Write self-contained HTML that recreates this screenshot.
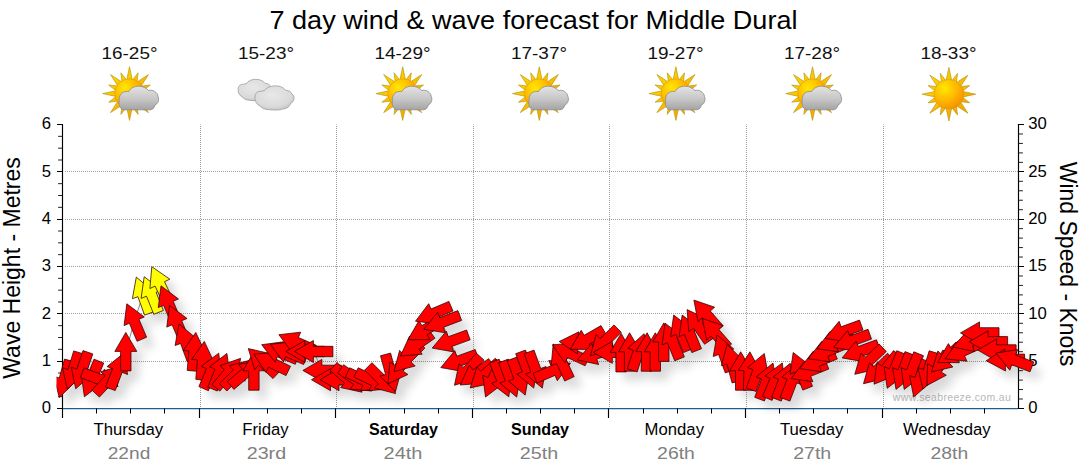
<!DOCTYPE html><html><head><meta charset="utf-8"><title>7 day wind &amp; wave forecast</title>
<style>html,body{margin:0;padding:0;background:#fff}svg{display:block}text{font-family:"Liberation Sans",sans-serif}</style></head><body>
<svg width="1080" height="475" viewBox="0 0 1080 475">
<defs>
<filter id="sh" x="-5%" y="-20%" width="110%" height="150%"><feGaussianBlur in="SourceAlpha" stdDeviation="5"/><feOffset dx="8" dy="9"/><feComponentTransfer><feFuncA type="linear" slope="0.15"/></feComponentTransfer></filter>
<radialGradient id="sung" cx="0.35" cy="0.3" r="0.8"><stop offset="0" stop-color="#ffe800"/><stop offset="0.55" stop-color="#ffb400"/><stop offset="1" stop-color="#f08c00"/></radialGradient>
<linearGradient id="rayg" x1="0" y1="0" x2="1" y2="1"><stop offset="0" stop-color="#ffe100"/><stop offset="1" stop-color="#f79400"/></linearGradient>
<linearGradient id="cldg" x1="0" y1="0" x2="0" y2="1"><stop offset="0" stop-color="#e4e4e4"/><stop offset="0.55" stop-color="#c6c6c6"/><stop offset="1" stop-color="#a4a4a4"/></linearGradient>
<clipPath id="cp"><rect x="56.5" y="100" width="1000" height="320"/></clipPath>
<radialGradient id="cldg2" cx="0.45" cy="0.38" r="0.8"><stop offset="0" stop-color="#e8e8e8"/><stop offset="0.6" stop-color="#dadada"/><stop offset="1" stop-color="#b0b0b0"/></radialGradient>
<filter id="blur1"><feGaussianBlur stdDeviation="0.5"/></filter>
</defs>
<rect width="1080" height="475" fill="#fff"/>
<text x="533.5" y="28.5" font-size="26" text-anchor="middle" textLength="528" lengthAdjust="spacingAndGlyphs" fill="#000">7 day wind &amp; wave forecast for Middle Dural</text>
<text x="129.5" y="59" font-size="17" text-anchor="middle" textLength="56" lengthAdjust="spacingAndGlyphs" fill="#111">16-25°</text>
<text x="266.0" y="59" font-size="17" text-anchor="middle" textLength="56" lengthAdjust="spacingAndGlyphs" fill="#111">15-23°</text>
<text x="402.5" y="59" font-size="17" text-anchor="middle" textLength="56" lengthAdjust="spacingAndGlyphs" fill="#111">14-29°</text>
<text x="539.0" y="59" font-size="17" text-anchor="middle" textLength="56" lengthAdjust="spacingAndGlyphs" fill="#111">17-37°</text>
<text x="675.5" y="59" font-size="17" text-anchor="middle" textLength="56" lengthAdjust="spacingAndGlyphs" fill="#111">19-27°</text>
<text x="812.0" y="59" font-size="17" text-anchor="middle" textLength="56" lengthAdjust="spacingAndGlyphs" fill="#111">17-28°</text>
<text x="948.5" y="59" font-size="17" text-anchor="middle" textLength="56" lengthAdjust="spacingAndGlyphs" fill="#111">18-33°</text>
<path d="M126.7,79.9 L129.5,66.8 L132.3,79.9 L132.6,79.9 L138.1,72.8 L137.0,81.8 L137.2,81.9 L148.5,74.6 L141.2,85.9 L141.3,86.1 L150.3,85.0 L143.2,90.5 L143.2,90.8 L156.3,93.6 L143.2,96.4 L143.2,96.7 L150.3,102.2 L141.3,101.1 L141.2,101.3 L148.5,112.6 L137.2,105.3 L137.0,105.4 L138.1,114.4 L132.6,107.3 L132.3,107.3 L129.5,120.4 L126.7,107.3 L126.4,107.3 L120.9,114.4 L122.0,105.4 L121.8,105.3 L110.5,112.6 L117.8,101.3 L117.7,101.1 L108.7,102.2 L115.8,96.7 L115.8,96.4 L102.7,93.6 L115.8,90.8 L115.8,90.5 L108.7,85.0 L117.7,86.1 L117.8,85.9 L110.5,74.6 L121.8,81.9 L122.0,81.8 L120.9,72.8 L126.4,79.9Z" fill="url(#rayg)" stroke="#b89a10" stroke-width="0.7" stroke-linejoin="round"/><circle cx="129.5" cy="93.6" r="14.8" fill="url(#sung)" stroke="#d09a10" stroke-width="0.5"/>
<path d="M124.3,109.8 C120.4,109.8 118.4,105.4 119.2,101.4 C118.6,96.0 121.4,91.6 125.8,91.6 C126.8,91.4 127.8,91.4 128.6,91.7 C130.8,87.7 134.7,86.2 138.7,86.2 C143.2,86.2 146.6,88.2 148.6,90.6 C152.6,89.2 157.5,92.1 158.1,96.5 C159.5,100.0 158.0,103.9 155.0,104.9 C154.5,107.8 152.6,109.8 150.1,109.8 Z" fill="url(#cldg)" stroke="#8a8a8a" stroke-width="0.8"/>
<path d="M238.1,89.1 C238.2,86.0 240.5,83.8 243.5,84.3 C244.4,83.8 245.2,83.6 246.1,83.8 C248.2,80.6 252.1,79.3 256.0,79.3 C259.9,79.3 263.3,80.9 265.1,83.3 C267.7,83.3 269.8,84.6 270.5,86.7 C272.0,87.3 272.6,89.1 272.2,90.9 C272.0,93.1 270.7,94.3 269.4,94.7 C268.5,97.6 266.4,99.4 263.3,99.6 C260.3,100.9 255.2,101.0 250.8,100.4 C247.0,100.3 243.9,99.4 242.6,97.1 C240.1,96.2 237.9,93.1 238.1,89.1 Z" fill="url(#cldg2)" stroke="#959595" stroke-width="0.7"/>
<path d="M254.9,96.9 C255.0,93.4 257.7,90.8 261.1,91.4 C262.1,90.8 263.1,90.6 264.1,90.8 C266.6,87.3 271.0,85.8 275.4,85.8 C279.9,85.8 283.8,87.6 285.8,90.3 C288.8,90.3 291.2,91.8 292.0,94.2 C293.7,94.9 294.4,96.9 294.0,98.9 C293.7,101.4 292.2,102.7 290.7,103.2 C289.8,106.5 287.3,108.5 283.8,108.8 C280.4,110.2 274.4,110.3 269.5,109.7 C265.1,109.6 261.6,108.5 260.1,106.0 C257.2,105.0 254.7,101.4 254.9,96.9 Z" fill="url(#cldg2)" stroke="#959595" stroke-width="0.7"/>
<path d="M399.9,79.9 L402.7,66.8 L405.5,79.9 L405.8,79.9 L411.3,72.8 L410.2,81.8 L410.4,81.9 L421.7,74.6 L414.4,85.9 L414.5,86.1 L423.5,85.0 L416.4,90.5 L416.4,90.8 L429.5,93.6 L416.4,96.4 L416.4,96.7 L423.5,102.2 L414.5,101.1 L414.4,101.3 L421.7,112.6 L410.4,105.3 L410.2,105.4 L411.3,114.4 L405.8,107.3 L405.5,107.3 L402.7,120.4 L399.9,107.3 L399.6,107.3 L394.1,114.4 L395.2,105.4 L395.0,105.3 L383.7,112.6 L391.0,101.3 L390.9,101.1 L381.9,102.2 L389.0,96.7 L389.0,96.4 L375.9,93.6 L389.0,90.8 L389.0,90.5 L381.9,85.0 L390.9,86.1 L391.0,85.9 L383.7,74.6 L395.0,81.9 L395.2,81.8 L394.1,72.8 L399.6,79.9Z" fill="url(#rayg)" stroke="#b89a10" stroke-width="0.7" stroke-linejoin="round"/><circle cx="402.7" cy="93.6" r="14.8" fill="url(#sung)" stroke="#d09a10" stroke-width="0.5"/>
<path d="M397.5,109.8 C393.6,109.8 391.6,105.4 392.4,101.4 C391.8,96.0 394.6,91.6 399.0,91.6 C400.0,91.4 401.0,91.4 401.8,91.7 C404.0,87.7 407.9,86.2 411.9,86.2 C416.4,86.2 419.8,88.2 421.8,90.6 C425.8,89.2 430.7,92.1 431.3,96.5 C432.7,100.0 431.2,103.9 428.2,104.9 C427.7,107.8 425.8,109.8 423.3,109.8 Z" fill="url(#cldg)" stroke="#8a8a8a" stroke-width="0.8"/>
<path d="M536.5,79.9 L539.3,66.8 L542.1,79.9 L542.4,79.9 L547.9,72.8 L546.8,81.8 L547.0,81.9 L558.3,74.6 L551.0,85.9 L551.1,86.1 L560.1,85.0 L553.0,90.5 L553.0,90.8 L566.1,93.6 L553.0,96.4 L553.0,96.7 L560.1,102.2 L551.1,101.1 L551.0,101.3 L558.3,112.6 L547.0,105.3 L546.8,105.4 L547.9,114.4 L542.4,107.3 L542.1,107.3 L539.3,120.4 L536.5,107.3 L536.2,107.3 L530.7,114.4 L531.8,105.4 L531.6,105.3 L520.3,112.6 L527.6,101.3 L527.5,101.1 L518.5,102.2 L525.6,96.7 L525.6,96.4 L512.5,93.6 L525.6,90.8 L525.6,90.5 L518.5,85.0 L527.5,86.1 L527.6,85.9 L520.3,74.6 L531.6,81.9 L531.8,81.8 L530.7,72.8 L536.2,79.9Z" fill="url(#rayg)" stroke="#b89a10" stroke-width="0.7" stroke-linejoin="round"/><circle cx="539.3" cy="93.6" r="14.8" fill="url(#sung)" stroke="#d09a10" stroke-width="0.5"/>
<path d="M534.1,109.8 C530.2,109.8 528.2,105.4 529.0,101.4 C528.4,96.0 531.2,91.6 535.6,91.6 C536.6,91.4 537.6,91.4 538.4,91.7 C540.6,87.7 544.5,86.2 548.5,86.2 C553.0,86.2 556.4,88.2 558.4,90.6 C562.4,89.2 567.3,92.1 567.9,96.5 C569.3,100.0 567.8,103.9 564.8,104.9 C564.3,107.8 562.4,109.8 559.9,109.8 Z" fill="url(#cldg)" stroke="#8a8a8a" stroke-width="0.8"/>
<path d="M673.1,79.9 L675.9,66.8 L678.7,79.9 L679.0,79.9 L684.5,72.8 L683.4,81.8 L683.6,81.9 L694.9,74.6 L687.6,85.9 L687.7,86.1 L696.7,85.0 L689.6,90.5 L689.6,90.8 L702.7,93.6 L689.6,96.4 L689.6,96.7 L696.7,102.2 L687.7,101.1 L687.6,101.3 L694.9,112.6 L683.6,105.3 L683.4,105.4 L684.5,114.4 L679.0,107.3 L678.7,107.3 L675.9,120.4 L673.1,107.3 L672.8,107.3 L667.3,114.4 L668.4,105.4 L668.2,105.3 L656.9,112.6 L664.2,101.3 L664.1,101.1 L655.1,102.2 L662.2,96.7 L662.2,96.4 L649.1,93.6 L662.2,90.8 L662.2,90.5 L655.1,85.0 L664.1,86.1 L664.2,85.9 L656.9,74.6 L668.2,81.9 L668.4,81.8 L667.3,72.8 L672.8,79.9Z" fill="url(#rayg)" stroke="#b89a10" stroke-width="0.7" stroke-linejoin="round"/><circle cx="675.9" cy="93.6" r="14.8" fill="url(#sung)" stroke="#d09a10" stroke-width="0.5"/>
<path d="M670.7,109.8 C666.8,109.8 664.8,105.4 665.6,101.4 C665.0,96.0 667.8,91.6 672.2,91.6 C673.2,91.4 674.2,91.4 675.0,91.7 C677.2,87.7 681.1,86.2 685.1,86.2 C689.6,86.2 693.0,88.2 695.0,90.6 C699.0,89.2 703.9,92.1 704.5,96.5 C705.9,100.0 704.4,103.9 701.4,104.9 C700.9,107.8 699.0,109.8 696.5,109.8 Z" fill="url(#cldg)" stroke="#8a8a8a" stroke-width="0.8"/>
<path d="M809.7,79.9 L812.5,66.8 L815.3,79.9 L815.6,79.9 L821.1,72.8 L820.0,81.8 L820.2,81.9 L831.5,74.6 L824.2,85.9 L824.3,86.1 L833.3,85.0 L826.2,90.5 L826.2,90.8 L839.3,93.6 L826.2,96.4 L826.2,96.7 L833.3,102.2 L824.3,101.1 L824.2,101.3 L831.5,112.6 L820.2,105.3 L820.0,105.4 L821.1,114.4 L815.6,107.3 L815.3,107.3 L812.5,120.4 L809.7,107.3 L809.4,107.3 L803.9,114.4 L805.0,105.4 L804.8,105.3 L793.5,112.6 L800.8,101.3 L800.7,101.1 L791.7,102.2 L798.8,96.7 L798.8,96.4 L785.7,93.6 L798.8,90.8 L798.8,90.5 L791.7,85.0 L800.7,86.1 L800.8,85.9 L793.5,74.6 L804.8,81.9 L805.0,81.8 L803.9,72.8 L809.4,79.9Z" fill="url(#rayg)" stroke="#b89a10" stroke-width="0.7" stroke-linejoin="round"/><circle cx="812.5" cy="93.6" r="14.8" fill="url(#sung)" stroke="#d09a10" stroke-width="0.5"/>
<path d="M807.3,109.8 C803.4,109.8 801.4,105.4 802.2,101.4 C801.6,96.0 804.4,91.6 808.8,91.6 C809.8,91.4 810.8,91.4 811.6,91.7 C813.8,87.7 817.7,86.2 821.7,86.2 C826.2,86.2 829.6,88.2 831.6,90.6 C835.6,89.2 840.5,92.1 841.1,96.5 C842.5,100.0 841.0,103.9 838.0,104.9 C837.5,107.8 835.6,109.8 833.1,109.8 Z" fill="url(#cldg)" stroke="#8a8a8a" stroke-width="0.8"/>
<path d="M946.1,80.5 L948.9,67.4 L951.7,80.5 L952.0,80.5 L957.5,73.4 L956.4,82.4 L956.6,82.5 L967.9,75.2 L960.6,86.5 L960.7,86.7 L969.7,85.6 L962.6,91.1 L962.6,91.4 L975.7,94.2 L962.6,97.0 L962.6,97.3 L969.7,102.8 L960.7,101.7 L960.6,101.9 L967.9,113.2 L956.6,105.9 L956.4,106.0 L957.5,115.0 L952.0,107.9 L951.7,107.9 L948.9,121.0 L946.1,107.9 L945.8,107.9 L940.3,115.0 L941.4,106.0 L941.2,105.9 L929.9,113.2 L937.2,101.9 L937.1,101.7 L928.1,102.8 L935.2,97.3 L935.2,97.0 L922.1,94.2 L935.2,91.4 L935.2,91.1 L928.1,85.6 L937.1,86.7 L937.2,86.5 L929.9,75.2 L941.2,82.5 L941.4,82.4 L940.3,73.4 L945.8,80.5Z" fill="url(#rayg)" stroke="#b89a10" stroke-width="0.7" stroke-linejoin="round"/><circle cx="948.8999999999999" cy="94.2" r="14.8" fill="url(#sung)" stroke="#d09a10" stroke-width="0.5"/>
<path d="M65.0,361.5H1018.5M65.0,313.5H1018.5M65.0,266.5H1018.5M65.0,219.5H1018.5M65.0,171.5H1018.5M200.5,407.0V124.5M336.5,407.0V124.5M473.5,407.0V124.5M609.5,407.0V124.5M746.5,407.0V124.5M883.5,407.0V124.5" stroke="#9c9c9c" stroke-width="1" stroke-dasharray="1,1" fill="none"/>
<path d="M62.5,124.0V418.0" stroke="#000" stroke-width="1.15"/>
<path d="M1018.5,124.0V409.1" stroke="#000" stroke-width="1.15"/>
<path d="M63.0,408.5H1018.0" stroke="#1f5d8c" stroke-width="1.25"/>
<path d="M57.0,408.5H62.5M57.0,361.5H62.5M57.0,313.5H62.5M57.0,266.5H62.5M57.0,219.5H62.5M57.0,171.5H62.5M57.0,124.5H62.5" stroke="#000" stroke-width="1.1"/>
<path d="M58.1,396.67H62.5M58.1,384.83H62.5M58.1,373.00H62.5M58.1,349.33H62.5M58.1,337.50H62.5M58.1,325.67H62.5M58.1,302.00H62.5M58.1,290.17H62.5M58.1,278.33H62.5M58.1,254.67H62.5M58.1,242.83H62.5M58.1,231.00H62.5M58.1,207.33H62.5M58.1,195.50H62.5M58.1,183.67H62.5M58.1,160.00H62.5M58.1,148.17H62.5M58.1,136.33H62.5" stroke="#222" stroke-width="1"/>
<path d="M1018.5,408.5H1024.0M1018.5,361.5H1024.0M1018.5,313.5H1024.0M1018.5,266.5H1024.0M1018.5,219.5H1024.0M1018.5,171.5H1024.0M1018.5,124.5H1024.0" stroke="#000" stroke-width="1.1"/>
<path d="M1018.5,399.03H1022.9M1018.5,389.57H1022.9M1018.5,380.10H1022.9M1018.5,370.63H1022.9M1018.5,351.70H1022.9M1018.5,342.23H1022.9M1018.5,332.77H1022.9M1018.5,323.30H1022.9M1018.5,304.37H1022.9M1018.5,294.90H1022.9M1018.5,285.43H1022.9M1018.5,275.97H1022.9M1018.5,257.03H1022.9M1018.5,247.57H1022.9M1018.5,238.10H1022.9M1018.5,228.63H1022.9M1018.5,209.70H1022.9M1018.5,200.23H1022.9M1018.5,190.77H1022.9M1018.5,181.30H1022.9M1018.5,162.37H1022.9M1018.5,152.90H1022.9M1018.5,143.43H1022.9M1018.5,133.97H1022.9" stroke="#222" stroke-width="1"/>
<path d="M199.5,408.5V418.0M335.5,408.5V418.0M472.5,408.5V418.0M608.5,408.5V418.0M745.5,408.5V418.0M882.5,408.5V418.0" stroke="#000" stroke-width="1.15"/>
<path d="M96.5,408.5V413.5M130.5,408.5V413.5M164.5,408.5V413.5M233.5,408.5V413.5M267.5,408.5V413.5M301.5,408.5V413.5M369.5,408.5V413.5M404.5,408.5V413.5M438.5,408.5V413.5M506.5,408.5V413.5M540.5,408.5V413.5M574.5,408.5V413.5M643.5,408.5V413.5M677.5,408.5V413.5M711.5,408.5V413.5M779.5,408.5V413.5M813.5,408.5V413.5M847.5,408.5V413.5M916.5,408.5V413.5M950.5,408.5V413.5M984.5,408.5V413.5" stroke="#000" stroke-width="1"/>
<text x="51" y="413.4" font-size="16.7" text-anchor="end" fill="#000">0</text>
<text x="51" y="366.1" font-size="16.7" text-anchor="end" fill="#000">1</text>
<text x="51" y="318.7" font-size="16.7" text-anchor="end" fill="#000">2</text>
<text x="51" y="271.4" font-size="16.7" text-anchor="end" fill="#000">3</text>
<text x="51" y="224.1" font-size="16.7" text-anchor="end" fill="#000">4</text>
<text x="51" y="176.7" font-size="16.7" text-anchor="end" fill="#000">5</text>
<text x="51" y="129.4" font-size="16.7" text-anchor="end" fill="#000">6</text>
<text x="1028.2" y="413.4" font-size="16.7" fill="#000">0</text>
<text x="1028.2" y="366.1" font-size="16.7" fill="#000">5</text>
<text x="1028.2" y="318.7" font-size="16.7" fill="#000">10</text>
<text x="1028.2" y="271.4" font-size="16.7" fill="#000">15</text>
<text x="1028.2" y="224.1" font-size="16.7" fill="#000">20</text>
<text x="1028.2" y="176.7" font-size="16.7" fill="#000">25</text>
<text x="1028.2" y="129.4" font-size="16.7" fill="#000">30</text>
<text transform="translate(19.7,268) rotate(-90)" font-size="23" text-anchor="middle" fill="#000">Wave Height - Metres</text>
<text transform="translate(1060.2,264) rotate(90)" font-size="23" text-anchor="middle" fill="#000">Wind Speed - Knots</text>
<text x="128.3" y="434.6" font-size="16.7" text-anchor="middle" fill="#000">Thursday</text>
<text x="129.0" y="458.6" font-size="17" text-anchor="middle" textLength="42.6" lengthAdjust="spacingAndGlyphs" fill="#808080">22nd</text>
<text x="265.5" y="434.6" font-size="16.7" text-anchor="middle" fill="#000">Friday</text>
<text x="266.4" y="458.6" font-size="17" text-anchor="middle" textLength="39.4" lengthAdjust="spacingAndGlyphs" fill="#808080">23rd</text>
<text x="403.5" y="434.6" font-size="16.1" text-anchor="middle" font-weight="bold" fill="#000">Saturday</text>
<text x="403.0" y="458.6" font-size="17" text-anchor="middle" textLength="38.9" lengthAdjust="spacingAndGlyphs" fill="#808080">24th</text>
<text x="540.0" y="434.6" font-size="16.1" text-anchor="middle" font-weight="bold" fill="#000">Sunday</text>
<text x="539.0" y="458.6" font-size="17" text-anchor="middle" textLength="38.4" lengthAdjust="spacingAndGlyphs" fill="#808080">25th</text>
<text x="674.3" y="434.6" font-size="16.7" text-anchor="middle" fill="#000">Monday</text>
<text x="676.0" y="458.6" font-size="17" text-anchor="middle" textLength="37.8" lengthAdjust="spacingAndGlyphs" fill="#808080">26th</text>
<text x="811.7" y="434.6" font-size="16.7" text-anchor="middle" fill="#000">Tuesday</text>
<text x="812.2" y="458.6" font-size="17" text-anchor="middle" textLength="38.1" lengthAdjust="spacingAndGlyphs" fill="#808080">27th</text>
<text x="946.8" y="434.6" font-size="16.7" text-anchor="middle" fill="#000">Wednesday</text>
<text x="949.4" y="458.6" font-size="17" text-anchor="middle" textLength="37.6" lengthAdjust="spacingAndGlyphs" fill="#808080">28th</text>
<text x="892.8" y="400.5" font-size="10.5" textLength="118" lengthAdjust="spacing" fill="#b8b8b8">www.seabreeze.com.au</text>
<g clip-path="url(#cp)"><path d="M59.3,397.5L53.7,376.3L59.3,377.9L64.5,359.1L74.6,361.8L69.3,380.6L74.9,382.2ZM67.4,389.2L62.4,367.8L68.0,369.5L73.7,350.9L83.6,353.9L77.9,372.6L83.5,374.3ZM75.7,388.8L71.3,367.2L76.8,369.1L83.0,350.6L92.8,353.9L86.6,372.4L92.1,374.2ZM84.4,396.8L81.3,375.1L86.7,377.3L94.0,359.2L103.7,363.1L96.3,381.2L101.7,383.4ZM118.2,386.3L96.5,389.9L98.6,384.5L80.3,377.6L84.0,367.9L102.2,374.7L104.3,369.3ZM121.8,365.4L116.9,386.8L112.7,382.9L99.4,397.1L91.8,390.0L105.1,375.8L100.8,371.8ZM124.1,352.8L127.6,374.5L122.2,372.4L115.2,390.6L105.5,386.9L112.5,368.7L107.1,366.6ZM125.8,332.4L136.8,351.4L131.0,351.4L131.0,370.9L120.6,370.9L120.6,351.4L114.8,351.4ZM126.8,303.8L144.3,317.0L139.0,319.2L146.6,337.2L137.1,341.3L129.4,323.3L124.1,325.6ZM136.3,277.1L153.1,291.2L147.7,293.2L154.3,311.5L144.6,315.1L137.9,296.7L132.4,298.7ZM144.2,276.7L161.5,290.1L156.1,292.3L163.4,310.4L153.8,314.3L146.5,296.2L141.1,298.4ZM151.8,266.7L169.8,279.2L164.5,281.7L172.8,299.3L163.4,303.7L155.1,286.1L149.9,288.5ZM161.0,285.8L178.5,299.0L173.2,301.2L180.8,319.2L171.2,323.3L163.6,305.3L158.3,307.6ZM169.5,305.3L187.0,318.5L181.7,320.7L189.3,338.7L179.8,342.8L172.1,324.8L166.8,327.1ZM179.0,323.9L195.8,338.0L190.4,340.0L197.0,358.3L187.3,361.9L180.6,343.5L175.1,345.5ZM195.8,332.5L205.1,352.4L199.3,351.9L197.6,371.3L187.2,370.4L188.9,351.0L183.2,350.5ZM204.3,341.4L213.6,361.3L207.8,360.8L206.1,380.2L195.8,379.3L197.5,359.9L191.7,359.4ZM218.7,353.2L221.4,375.0L216.1,372.7L208.4,390.7L198.9,386.6L206.5,368.6L201.2,366.4ZM226.9,353.4L230.0,375.1L224.6,372.9L217.3,391.0L207.7,387.1L215.0,369.0L209.6,366.8ZM240.6,358.3L236.8,379.9L232.4,376.2L219.9,391.1L211.9,384.4L224.4,369.5L220.0,365.7ZM250.4,360.1L244.8,381.3L240.7,377.2L226.9,391.0L219.5,383.6L233.3,369.8L229.2,365.7ZM260.1,360.6L252.6,381.3L248.9,376.8L233.9,389.4L227.3,381.4L242.2,368.9L238.5,364.4ZM253.9,351.8L264.9,370.8L259.1,370.8L259.1,390.2L248.7,390.2L248.7,370.8L242.9,370.8ZM248.3,348.6L269.7,353.5L265.8,357.7L280.0,371.0L273.0,378.6L258.7,365.3L254.7,369.6ZM253.7,354.1L275.6,352.5L273.0,357.7L290.5,366.3L286.0,375.6L268.5,367.1L265.9,372.3ZM261.7,344.7L283.5,341.8L281.3,347.2L299.3,354.7L295.3,364.3L277.3,356.8L275.1,362.2ZM270.4,344.3L292.2,341.8L289.9,347.1L307.8,354.9L303.6,364.5L285.7,356.7L283.4,362.0ZM278.9,334.7L300.7,332.2L298.4,337.5L316.3,345.3L312.2,354.8L294.3,347.1L292.0,352.4ZM285.9,351.5L304.9,340.5L304.9,346.3L324.4,346.3L324.4,356.7L304.9,356.7L304.9,362.5ZM294.4,351.5L313.4,340.5L313.4,346.3L332.9,346.3L332.9,356.7L313.4,356.7L313.4,362.5ZM302.9,370.4L321.9,359.4L321.9,365.2L341.4,365.2L341.4,375.6L321.9,375.6L321.9,381.4ZM311.5,379.7L330.5,368.7L330.5,374.5L350.0,374.5L350.0,384.9L330.5,384.9L330.5,390.7ZM320.0,379.7L339.0,368.7L339.0,374.5L358.5,374.5L358.5,384.9L339.0,384.9L339.0,390.7ZM362.1,392.2L340.6,387.6L344.5,383.3L330.0,370.3L337.0,362.6L351.5,375.6L355.4,371.3ZM372.1,391.0L350.3,389.2L353.6,384.4L337.6,373.2L343.6,364.7L359.5,375.9L362.9,371.1ZM382.3,388.7L360.5,390.7L362.9,385.4L345.3,377.2L349.7,367.8L367.3,376.0L369.8,370.7ZM390.9,388.7L369.0,390.7L371.5,385.4L353.8,377.2L358.2,367.8L375.9,376.0L378.3,370.7ZM395.6,393.6L374.4,388.0L378.5,383.9L364.7,370.1L372.0,362.7L385.8,376.5L389.9,372.4ZM395.5,391.6L380.0,376.1L385.6,374.6L380.5,355.8L390.6,353.1L395.6,371.9L401.2,370.4ZM388.0,383.8L389.9,361.9L394.7,365.2L405.8,349.2L414.4,355.2L403.2,371.2L407.9,374.5ZM394.0,371.6L399.6,350.4L403.7,354.5L417.5,340.7L424.9,348.1L411.1,361.9L415.2,366.0ZM400.4,356.0L409.6,336.1L413.0,340.9L428.9,329.7L434.9,338.2L418.9,349.4L422.2,354.2ZM408.0,339.6L419.0,320.6L421.9,325.6L438.8,315.9L444.0,324.9L427.1,334.6L430.0,339.7ZM415.5,321.2L428.7,303.7L431.0,309.0L448.9,301.4L453.0,311.0L435.0,318.6L437.3,323.9ZM423.8,329.3L437.6,312.2L439.7,317.6L457.9,310.6L461.6,320.4L443.4,327.3L445.5,332.8ZM432.2,348.1L446.3,331.2L448.3,336.7L466.6,330.0L470.2,339.8L451.8,346.5L453.8,351.9ZM440.8,367.6L454.8,350.7L456.8,356.2L475.2,349.5L478.7,359.3L460.4,366.0L462.4,371.4ZM454.5,385.3L459.0,363.8L463.3,367.7L476.4,353.2L484.1,360.2L471.1,374.7L475.4,378.5ZM460.2,385.0L469.4,365.1L472.7,369.9L488.7,358.7L494.7,367.2L478.7,378.4L482.0,383.2ZM470.2,387.9L476.9,367.0L480.8,371.3L495.3,358.3L502.2,366.0L487.8,379.0L491.6,383.3ZM485.5,397.0L482.8,375.2L488.1,377.5L495.7,359.5L505.3,363.6L497.7,381.6L503.0,383.8ZM508.8,396.8L491.4,383.4L496.8,381.2L489.5,363.1L499.2,359.2L506.5,377.3L511.8,375.1ZM516.7,397.1L499.8,383.0L505.3,381.0L498.6,362.7L508.4,359.1L515.1,377.5L520.5,375.5ZM525.2,395.1L508.4,381.0L513.8,379.0L507.1,360.7L516.9,357.1L523.6,375.5L529.0,373.5ZM533.7,388.1L516.9,374.0L522.4,372.0L515.7,353.7L525.5,350.1L532.1,368.5L537.6,366.5ZM542.3,388.1L525.4,374.0L530.9,372.0L524.2,353.7L534.0,350.1L540.7,368.5L546.1,366.5ZM570.5,363.2L557.3,380.7L555.0,375.4L537.1,383.0L533.0,373.4L551.0,365.8L548.7,360.5ZM553.2,344.0L571.2,356.5L565.9,359.0L574.2,376.6L564.7,381.0L556.5,363.4L551.2,365.8ZM552.4,344.9L574.3,342.9L571.8,348.2L589.5,356.4L585.1,365.8L567.4,357.6L565.0,362.9ZM559.2,341.5L578.9,331.8L578.5,337.6L598.0,339.0L597.2,349.3L577.8,348.0L577.4,353.8ZM570.3,349.3L581.2,330.3L584.1,335.3L601.0,325.6L606.2,334.6L589.3,344.3L592.2,349.4ZM577.2,359.9L591.8,343.6L593.6,349.1L612.2,343.1L615.4,353.0L596.8,359.0L598.6,364.5ZM590.4,355.8L596.1,334.6L600.2,338.7L614.0,324.9L621.3,332.3L607.5,346.1L611.6,350.2ZM593.3,352.3L612.3,341.3L612.3,347.1L631.8,347.1L631.8,357.5L612.3,357.5L612.3,363.3ZM621.1,333.4L632.1,352.4L626.3,352.4L626.3,371.9L615.9,371.9L615.9,352.4L610.1,352.4ZM629.6,332.8L640.6,351.8L634.8,351.8L634.8,371.2L624.4,371.2L624.4,351.8L618.6,351.8ZM644.1,333.7L648.7,355.2L643.2,353.4L637.2,371.9L627.3,368.7L633.3,350.2L627.8,348.4ZM647.1,332.8L657.7,351.9L651.9,351.8L651.6,371.3L641.2,371.2L641.5,351.7L635.7,351.6ZM655.3,332.8L666.3,351.8L660.5,351.8L660.5,371.2L650.1,371.2L650.1,351.8L644.3,351.8ZM663.8,322.9L674.8,341.9L669.0,341.9L669.0,361.4L658.6,361.4L658.6,341.9L652.8,341.9ZM665.1,323.2L682.4,336.6L677.1,338.8L684.4,356.9L674.7,360.8L667.4,342.7L662.0,344.9ZM673.7,315.0L691.0,328.4L685.6,330.6L692.9,348.7L683.3,352.6L676.0,334.5L670.6,336.7ZM682.2,315.0L699.5,328.4L694.1,330.6L701.5,348.7L691.8,352.6L684.5,334.5L679.1,336.7ZM687.1,309.6L706.9,319.1L702.1,322.3L713.1,338.4L704.6,344.3L693.5,328.2L688.8,331.5ZM693.9,300.1L714.6,307.2L710.3,311.0L723.1,325.7L715.2,332.5L702.4,317.8L698.0,321.6ZM702.4,318.5L723.2,325.6L718.8,329.4L731.6,344.1L723.7,350.9L711.0,336.2L706.6,340.0ZM717.0,334.9L733.8,349.0L728.4,351.0L735.1,369.3L725.3,372.9L718.6,354.5L713.2,356.5ZM727.1,344.4L742.7,359.9L737.1,361.4L742.1,380.2L732.1,382.9L727.0,364.1L721.4,365.6ZM740.7,351.8L751.7,370.8L745.9,370.8L745.9,390.2L735.5,390.2L735.5,370.8L729.7,370.8ZM749.9,351.8L760.2,371.1L754.4,370.9L753.7,390.4L743.3,390.1L744.0,370.6L738.2,370.4ZM764.3,353.5L768.2,375.1L762.7,373.1L756.0,391.5L746.3,387.9L752.9,369.6L747.5,367.6ZM773.0,363.1L776.7,384.7L771.2,382.7L764.4,401.0L754.7,397.3L761.5,379.0L756.1,377.0ZM782.3,362.9L785.0,384.7L779.7,382.4L772.1,400.4L762.5,396.3L770.1,378.3L764.8,376.1ZM790.3,363.3L793.7,385.0L788.3,382.9L781.3,401.1L771.6,397.4L778.6,379.2L773.2,377.1ZM798.8,363.3L802.3,385.0L796.8,382.9L789.9,401.1L780.1,397.4L787.1,379.2L781.7,377.1ZM793.2,352.5L810.5,365.9L805.2,368.1L812.5,386.2L802.8,390.1L795.5,372.0L790.1,374.2ZM791.1,378.6L804.6,361.3L806.8,366.7L824.9,359.4L828.8,369.0L810.7,376.3L812.9,381.7ZM799.7,368.6L813.2,351.3L815.3,356.7L833.4,349.4L837.3,359.0L819.2,366.3L821.4,371.7ZM808.2,358.7L821.7,341.4L823.9,346.8L842.0,339.5L845.9,349.1L827.8,356.4L829.9,361.8ZM816.8,348.7L830.2,331.4L832.4,336.8L850.5,329.5L854.4,339.1L836.3,346.4L838.5,351.8ZM825.1,338.2L839.1,321.3L841.1,326.8L859.5,320.1L863.0,329.9L844.7,336.6L846.7,342.0ZM833.6,347.4L847.7,330.5L849.7,336.0L868.0,329.3L871.5,339.1L853.2,345.8L855.2,351.2ZM842.1,357.9L856.2,341.0L858.2,346.5L876.5,339.8L880.1,349.6L861.8,356.3L863.7,361.7ZM854.8,374.3L861.0,353.2L865.0,357.4L879.1,344.0L886.3,351.5L872.2,364.9L876.2,369.2ZM863.5,383.7L869.5,362.6L873.5,366.7L887.5,353.2L894.8,360.7L880.7,374.2L884.8,378.4ZM874.0,384.2L877.0,362.4L881.6,366.0L893.6,350.6L901.8,357.0L889.8,372.4L894.4,376.0ZM887.2,388.3L884.1,366.6L889.5,368.8L896.8,350.7L906.4,354.6L899.1,372.7L904.5,374.9ZM896.0,389.4L892.6,367.7L898.0,369.8L905.0,351.6L914.7,355.3L907.7,373.5L913.1,375.6ZM904.2,389.4L901.2,367.7L906.5,369.9L913.8,351.8L923.5,355.7L916.2,373.8L921.6,376.0ZM913.7,397.0L909.5,375.5L915.0,377.3L921.4,358.9L931.2,362.3L924.8,380.7L930.3,382.6ZM922.9,389.1L917.9,367.7L923.5,369.4L929.2,350.8L939.1,353.8L933.4,372.5L939.0,374.2ZM926.9,385.5L927.6,363.6L932.5,366.7L942.9,350.1L951.7,355.6L941.4,372.2L946.3,375.2ZM931.5,371.9L937.9,350.9L941.9,355.2L956.2,341.9L963.2,349.5L949.0,362.8L952.9,367.0ZM937.5,362.6L948.4,343.6L951.3,348.6L968.2,338.9L973.4,347.9L956.5,357.6L959.4,362.7ZM945.1,358.8L958.0,341.1L960.4,346.4L978.2,338.4L982.4,347.9L964.6,355.9L966.9,361.2ZM952.9,346.9L967.6,330.6L969.4,336.1L987.9,330.1L991.2,340.0L972.6,346.0L974.4,351.5ZM960.5,332.9L979.5,321.9L979.5,327.7L999.0,327.7L999.0,338.1L979.5,338.1L979.5,343.9ZM969.1,341.8L988.1,330.8L988.1,336.6L1007.6,336.6L1007.6,347.0L988.1,347.0L988.1,352.8ZM977.6,350.0L996.6,339.0L996.6,344.8L1016.1,344.8L1016.1,355.2L996.6,355.2L996.6,361.0ZM986.2,360.7L1004.8,349.0L1005.0,354.8L1024.5,354.1L1024.8,364.5L1005.3,365.2L1005.5,371.0ZM996.0,353.1L1017.6,349.6L1015.6,355.1L1033.8,362.0L1030.0,371.8L1011.8,364.8L1009.8,370.2Z" fill="#000" filter="url(#sh)"/>
<path d="M64.4,379.0L73.0,370.8L81.8,370.5L91.6,379.0L100.2,379.5L108.7,379.5L117.2,370.8L125.8,351.7L134.3,321.5L142.9,295.2L151.4,294.5L159.9,284.1L168.5,303.5L177.0,323.0L185.6,342.0L194.1,351.7L202.6,360.6L211.2,370.9L219.7,371.2L228.3,373.0L236.8,373.7L245.3,373.0L253.9,371.0L262.4,361.7L271.0,362.5L279.5,352.1L288.0,352.0L296.6,342.4L305.1,351.5L313.7,351.5L322.2,370.4L330.7,379.7L339.3,379.7L347.8,379.3L356.4,380.0L364.9,380.6L373.4,380.6L382.0,380.0L390.5,373.0L399.1,368.0L407.6,358.0L416.1,345.0L424.7,330.0L433.2,313.7L441.8,322.4L450.3,341.5L458.8,361.0L467.4,371.0L475.9,374.0L484.5,375.0L493.0,379.3L501.5,379.0L510.1,379.0L518.6,377.0L527.2,370.0L535.7,370.0L552.8,370.7L561.3,361.4L569.9,353.0L578.4,342.8L586.9,339.7L595.5,354.0L604.0,342.2L612.6,352.3L621.1,352.6L629.6,352.0L638.2,352.0L646.7,352.0L655.3,352.0L663.8,342.2L672.3,341.0L680.9,332.8L689.4,332.8L698.0,325.5L706.5,314.6L715.0,333.0L723.6,353.0L732.1,363.0L740.7,371.0L749.2,371.0L757.7,371.6L766.3,381.1L774.8,380.6L783.4,381.3L791.9,381.3L800.4,370.3L809.0,371.4L817.5,361.4L826.1,351.5L834.6,341.5L843.1,331.6L851.7,340.8L860.2,351.3L868.8,361.0L877.3,370.3L885.8,369.0L894.4,370.5L902.9,371.4L911.5,371.6L920.0,378.8L928.5,370.7L937.1,369.2L945.6,358.8L954.2,353.0L962.7,351.0L971.2,341.0L979.8,332.9L988.3,341.8L996.9,350.0L1005.4,360.0L1013.9,360.0" fill="none" stroke="#888" stroke-width="1"/>
<path d="M59.3,397.5L53.7,376.3L59.3,377.9L64.5,359.1L74.6,361.8L69.3,380.6L74.9,382.2Z" fill="#ff0000" stroke="#2a0000" stroke-width="0.75" stroke-linejoin="miter"/>
<path d="M67.4,389.2L62.4,367.8L68.0,369.5L73.7,350.9L83.6,353.9L77.9,372.6L83.5,374.3Z" fill="#ff0000" stroke="#2a0000" stroke-width="0.75" stroke-linejoin="miter"/>
<path d="M75.7,388.8L71.3,367.2L76.8,369.1L83.0,350.6L92.8,353.9L86.6,372.4L92.1,374.2Z" fill="#ff0000" stroke="#2a0000" stroke-width="0.75" stroke-linejoin="miter"/>
<path d="M84.4,396.8L81.3,375.1L86.7,377.3L94.0,359.2L103.7,363.1L96.3,381.2L101.7,383.4Z" fill="#ff0000" stroke="#2a0000" stroke-width="0.75" stroke-linejoin="miter"/>
<path d="M118.2,386.3L96.5,389.9L98.6,384.5L80.3,377.6L84.0,367.9L102.2,374.7L104.3,369.3Z" fill="#ff0000" stroke="#2a0000" stroke-width="0.75" stroke-linejoin="miter"/>
<path d="M121.8,365.4L116.9,386.8L112.7,382.9L99.4,397.1L91.8,390.0L105.1,375.8L100.8,371.8Z" fill="#ff0000" stroke="#2a0000" stroke-width="0.75" stroke-linejoin="miter"/>
<path d="M124.1,352.8L127.6,374.5L122.2,372.4L115.2,390.6L105.5,386.9L112.5,368.7L107.1,366.6Z" fill="#ff0000" stroke="#2a0000" stroke-width="0.75" stroke-linejoin="miter"/>
<path d="M125.8,332.4L136.8,351.4L131.0,351.4L131.0,370.9L120.6,370.9L120.6,351.4L114.8,351.4Z" fill="#ff0000" stroke="#2a0000" stroke-width="0.75" stroke-linejoin="miter"/>
<path d="M126.8,303.8L144.3,317.0L139.0,319.2L146.6,337.2L137.1,341.3L129.4,323.3L124.1,325.6Z" fill="#ff0000" stroke="#2a0000" stroke-width="0.75" stroke-linejoin="miter"/>
<path d="M136.3,277.1L153.1,291.2L147.7,293.2L154.3,311.5L144.6,315.1L137.9,296.7L132.4,298.7Z" fill="#ffff00" stroke="#2a0000" stroke-width="0.75" stroke-linejoin="miter"/>
<path d="M144.2,276.7L161.5,290.1L156.1,292.3L163.4,310.4L153.8,314.3L146.5,296.2L141.1,298.4Z" fill="#ffff00" stroke="#2a0000" stroke-width="0.75" stroke-linejoin="miter"/>
<path d="M151.8,266.7L169.8,279.2L164.5,281.7L172.8,299.3L163.4,303.7L155.1,286.1L149.9,288.5Z" fill="#ffff00" stroke="#2a0000" stroke-width="0.75" stroke-linejoin="miter"/>
<path d="M161.0,285.8L178.5,299.0L173.2,301.2L180.8,319.2L171.2,323.3L163.6,305.3L158.3,307.6Z" fill="#ff0000" stroke="#2a0000" stroke-width="0.75" stroke-linejoin="miter"/>
<path d="M169.5,305.3L187.0,318.5L181.7,320.7L189.3,338.7L179.8,342.8L172.1,324.8L166.8,327.1Z" fill="#ff0000" stroke="#2a0000" stroke-width="0.75" stroke-linejoin="miter"/>
<path d="M179.0,323.9L195.8,338.0L190.4,340.0L197.0,358.3L187.3,361.9L180.6,343.5L175.1,345.5Z" fill="#ff0000" stroke="#2a0000" stroke-width="0.75" stroke-linejoin="miter"/>
<path d="M195.8,332.5L205.1,352.4L199.3,351.9L197.6,371.3L187.2,370.4L188.9,351.0L183.2,350.5Z" fill="#ff0000" stroke="#2a0000" stroke-width="0.75" stroke-linejoin="miter"/>
<path d="M204.3,341.4L213.6,361.3L207.8,360.8L206.1,380.2L195.8,379.3L197.5,359.9L191.7,359.4Z" fill="#ff0000" stroke="#2a0000" stroke-width="0.75" stroke-linejoin="miter"/>
<path d="M218.7,353.2L221.4,375.0L216.1,372.7L208.4,390.7L198.9,386.6L206.5,368.6L201.2,366.4Z" fill="#ff0000" stroke="#2a0000" stroke-width="0.75" stroke-linejoin="miter"/>
<path d="M226.9,353.4L230.0,375.1L224.6,372.9L217.3,391.0L207.7,387.1L215.0,369.0L209.6,366.8Z" fill="#ff0000" stroke="#2a0000" stroke-width="0.75" stroke-linejoin="miter"/>
<path d="M240.6,358.3L236.8,379.9L232.4,376.2L219.9,391.1L211.9,384.4L224.4,369.5L220.0,365.7Z" fill="#ff0000" stroke="#2a0000" stroke-width="0.75" stroke-linejoin="miter"/>
<path d="M250.4,360.1L244.8,381.3L240.7,377.2L226.9,391.0L219.5,383.6L233.3,369.8L229.2,365.7Z" fill="#ff0000" stroke="#2a0000" stroke-width="0.75" stroke-linejoin="miter"/>
<path d="M260.1,360.6L252.6,381.3L248.9,376.8L233.9,389.4L227.3,381.4L242.2,368.9L238.5,364.4Z" fill="#ff0000" stroke="#2a0000" stroke-width="0.75" stroke-linejoin="miter"/>
<path d="M253.9,351.8L264.9,370.8L259.1,370.8L259.1,390.2L248.7,390.2L248.7,370.8L242.9,370.8Z" fill="#ff0000" stroke="#2a0000" stroke-width="0.75" stroke-linejoin="miter"/>
<path d="M248.3,348.6L269.7,353.5L265.8,357.7L280.0,371.0L273.0,378.6L258.7,365.3L254.7,369.6Z" fill="#ff0000" stroke="#2a0000" stroke-width="0.75" stroke-linejoin="miter"/>
<path d="M253.7,354.1L275.6,352.5L273.0,357.7L290.5,366.3L286.0,375.6L268.5,367.1L265.9,372.3Z" fill="#ff0000" stroke="#2a0000" stroke-width="0.75" stroke-linejoin="miter"/>
<path d="M261.7,344.7L283.5,341.8L281.3,347.2L299.3,354.7L295.3,364.3L277.3,356.8L275.1,362.2Z" fill="#ff0000" stroke="#2a0000" stroke-width="0.75" stroke-linejoin="miter"/>
<path d="M270.4,344.3L292.2,341.8L289.9,347.1L307.8,354.9L303.6,364.5L285.7,356.7L283.4,362.0Z" fill="#ff0000" stroke="#2a0000" stroke-width="0.75" stroke-linejoin="miter"/>
<path d="M278.9,334.7L300.7,332.2L298.4,337.5L316.3,345.3L312.2,354.8L294.3,347.1L292.0,352.4Z" fill="#ff0000" stroke="#2a0000" stroke-width="0.75" stroke-linejoin="miter"/>
<path d="M285.9,351.5L304.9,340.5L304.9,346.3L324.4,346.3L324.4,356.7L304.9,356.7L304.9,362.5Z" fill="#ff0000" stroke="#2a0000" stroke-width="0.75" stroke-linejoin="miter"/>
<path d="M294.4,351.5L313.4,340.5L313.4,346.3L332.9,346.3L332.9,356.7L313.4,356.7L313.4,362.5Z" fill="#ff0000" stroke="#2a0000" stroke-width="0.75" stroke-linejoin="miter"/>
<path d="M302.9,370.4L321.9,359.4L321.9,365.2L341.4,365.2L341.4,375.6L321.9,375.6L321.9,381.4Z" fill="#ff0000" stroke="#2a0000" stroke-width="0.75" stroke-linejoin="miter"/>
<path d="M311.5,379.7L330.5,368.7L330.5,374.5L350.0,374.5L350.0,384.9L330.5,384.9L330.5,390.7Z" fill="#ff0000" stroke="#2a0000" stroke-width="0.75" stroke-linejoin="miter"/>
<path d="M320.0,379.7L339.0,368.7L339.0,374.5L358.5,374.5L358.5,384.9L339.0,384.9L339.0,390.7Z" fill="#ff0000" stroke="#2a0000" stroke-width="0.75" stroke-linejoin="miter"/>
<path d="M362.1,392.2L340.6,387.6L344.5,383.3L330.0,370.3L337.0,362.6L351.5,375.6L355.4,371.3Z" fill="#ff0000" stroke="#2a0000" stroke-width="0.75" stroke-linejoin="miter"/>
<path d="M372.1,391.0L350.3,389.2L353.6,384.4L337.6,373.2L343.6,364.7L359.5,375.9L362.9,371.1Z" fill="#ff0000" stroke="#2a0000" stroke-width="0.75" stroke-linejoin="miter"/>
<path d="M382.3,388.7L360.5,390.7L362.9,385.4L345.3,377.2L349.7,367.8L367.3,376.0L369.8,370.7Z" fill="#ff0000" stroke="#2a0000" stroke-width="0.75" stroke-linejoin="miter"/>
<path d="M390.9,388.7L369.0,390.7L371.5,385.4L353.8,377.2L358.2,367.8L375.9,376.0L378.3,370.7Z" fill="#ff0000" stroke="#2a0000" stroke-width="0.75" stroke-linejoin="miter"/>
<path d="M395.6,393.6L374.4,388.0L378.5,383.9L364.7,370.1L372.0,362.7L385.8,376.5L389.9,372.4Z" fill="#ff0000" stroke="#2a0000" stroke-width="0.75" stroke-linejoin="miter"/>
<path d="M395.5,391.6L380.0,376.1L385.6,374.6L380.5,355.8L390.6,353.1L395.6,371.9L401.2,370.4Z" fill="#ff0000" stroke="#2a0000" stroke-width="0.75" stroke-linejoin="miter"/>
<path d="M388.0,383.8L389.9,361.9L394.7,365.2L405.8,349.2L414.4,355.2L403.2,371.2L407.9,374.5Z" fill="#ff0000" stroke="#2a0000" stroke-width="0.75" stroke-linejoin="miter"/>
<path d="M394.0,371.6L399.6,350.4L403.7,354.5L417.5,340.7L424.9,348.1L411.1,361.9L415.2,366.0Z" fill="#ff0000" stroke="#2a0000" stroke-width="0.75" stroke-linejoin="miter"/>
<path d="M400.4,356.0L409.6,336.1L413.0,340.9L428.9,329.7L434.9,338.2L418.9,349.4L422.2,354.2Z" fill="#ff0000" stroke="#2a0000" stroke-width="0.75" stroke-linejoin="miter"/>
<path d="M408.0,339.6L419.0,320.6L421.9,325.6L438.8,315.9L444.0,324.9L427.1,334.6L430.0,339.7Z" fill="#ff0000" stroke="#2a0000" stroke-width="0.75" stroke-linejoin="miter"/>
<path d="M415.5,321.2L428.7,303.7L431.0,309.0L448.9,301.4L453.0,311.0L435.0,318.6L437.3,323.9Z" fill="#ff0000" stroke="#2a0000" stroke-width="0.75" stroke-linejoin="miter"/>
<path d="M423.8,329.3L437.6,312.2L439.7,317.6L457.9,310.6L461.6,320.4L443.4,327.3L445.5,332.8Z" fill="#ff0000" stroke="#2a0000" stroke-width="0.75" stroke-linejoin="miter"/>
<path d="M432.2,348.1L446.3,331.2L448.3,336.7L466.6,330.0L470.2,339.8L451.8,346.5L453.8,351.9Z" fill="#ff0000" stroke="#2a0000" stroke-width="0.75" stroke-linejoin="miter"/>
<path d="M440.8,367.6L454.8,350.7L456.8,356.2L475.2,349.5L478.7,359.3L460.4,366.0L462.4,371.4Z" fill="#ff0000" stroke="#2a0000" stroke-width="0.75" stroke-linejoin="miter"/>
<path d="M454.5,385.3L459.0,363.8L463.3,367.7L476.4,353.2L484.1,360.2L471.1,374.7L475.4,378.5Z" fill="#ff0000" stroke="#2a0000" stroke-width="0.75" stroke-linejoin="miter"/>
<path d="M460.2,385.0L469.4,365.1L472.7,369.9L488.7,358.7L494.7,367.2L478.7,378.4L482.0,383.2Z" fill="#ff0000" stroke="#2a0000" stroke-width="0.75" stroke-linejoin="miter"/>
<path d="M470.2,387.9L476.9,367.0L480.8,371.3L495.3,358.3L502.2,366.0L487.8,379.0L491.6,383.3Z" fill="#ff0000" stroke="#2a0000" stroke-width="0.75" stroke-linejoin="miter"/>
<path d="M485.5,397.0L482.8,375.2L488.1,377.5L495.7,359.5L505.3,363.6L497.7,381.6L503.0,383.8Z" fill="#ff0000" stroke="#2a0000" stroke-width="0.75" stroke-linejoin="miter"/>
<path d="M508.8,396.8L491.4,383.4L496.8,381.2L489.5,363.1L499.2,359.2L506.5,377.3L511.8,375.1Z" fill="#ff0000" stroke="#2a0000" stroke-width="0.75" stroke-linejoin="miter"/>
<path d="M516.7,397.1L499.8,383.0L505.3,381.0L498.6,362.7L508.4,359.1L515.1,377.5L520.5,375.5Z" fill="#ff0000" stroke="#2a0000" stroke-width="0.75" stroke-linejoin="miter"/>
<path d="M525.2,395.1L508.4,381.0L513.8,379.0L507.1,360.7L516.9,357.1L523.6,375.5L529.0,373.5Z" fill="#ff0000" stroke="#2a0000" stroke-width="0.75" stroke-linejoin="miter"/>
<path d="M533.7,388.1L516.9,374.0L522.4,372.0L515.7,353.7L525.5,350.1L532.1,368.5L537.6,366.5Z" fill="#ff0000" stroke="#2a0000" stroke-width="0.75" stroke-linejoin="miter"/>
<path d="M542.3,388.1L525.4,374.0L530.9,372.0L524.2,353.7L534.0,350.1L540.7,368.5L546.1,366.5Z" fill="#ff0000" stroke="#2a0000" stroke-width="0.75" stroke-linejoin="miter"/>
<path d="M570.5,363.2L557.3,380.7L555.0,375.4L537.1,383.0L533.0,373.4L551.0,365.8L548.7,360.5Z" fill="#ff0000" stroke="#2a0000" stroke-width="0.75" stroke-linejoin="miter"/>
<path d="M553.2,344.0L571.2,356.5L565.9,359.0L574.2,376.6L564.7,381.0L556.5,363.4L551.2,365.8Z" fill="#ff0000" stroke="#2a0000" stroke-width="0.75" stroke-linejoin="miter"/>
<path d="M552.4,344.9L574.3,342.9L571.8,348.2L589.5,356.4L585.1,365.8L567.4,357.6L565.0,362.9Z" fill="#ff0000" stroke="#2a0000" stroke-width="0.75" stroke-linejoin="miter"/>
<path d="M559.2,341.5L578.9,331.8L578.5,337.6L598.0,339.0L597.2,349.3L577.8,348.0L577.4,353.8Z" fill="#ff0000" stroke="#2a0000" stroke-width="0.75" stroke-linejoin="miter"/>
<path d="M570.3,349.3L581.2,330.3L584.1,335.3L601.0,325.6L606.2,334.6L589.3,344.3L592.2,349.4Z" fill="#ff0000" stroke="#2a0000" stroke-width="0.75" stroke-linejoin="miter"/>
<path d="M577.2,359.9L591.8,343.6L593.6,349.1L612.2,343.1L615.4,353.0L596.8,359.0L598.6,364.5Z" fill="#ff0000" stroke="#2a0000" stroke-width="0.75" stroke-linejoin="miter"/>
<path d="M590.4,355.8L596.1,334.6L600.2,338.7L614.0,324.9L621.3,332.3L607.5,346.1L611.6,350.2Z" fill="#ff0000" stroke="#2a0000" stroke-width="0.75" stroke-linejoin="miter"/>
<path d="M593.3,352.3L612.3,341.3L612.3,347.1L631.8,347.1L631.8,357.5L612.3,357.5L612.3,363.3Z" fill="#ff0000" stroke="#2a0000" stroke-width="0.75" stroke-linejoin="miter"/>
<path d="M621.1,333.4L632.1,352.4L626.3,352.4L626.3,371.9L615.9,371.9L615.9,352.4L610.1,352.4Z" fill="#ff0000" stroke="#2a0000" stroke-width="0.75" stroke-linejoin="miter"/>
<path d="M629.6,332.8L640.6,351.8L634.8,351.8L634.8,371.2L624.4,371.2L624.4,351.8L618.6,351.8Z" fill="#ff0000" stroke="#2a0000" stroke-width="0.75" stroke-linejoin="miter"/>
<path d="M644.1,333.7L648.7,355.2L643.2,353.4L637.2,371.9L627.3,368.7L633.3,350.2L627.8,348.4Z" fill="#ff0000" stroke="#2a0000" stroke-width="0.75" stroke-linejoin="miter"/>
<path d="M647.1,332.8L657.7,351.9L651.9,351.8L651.6,371.3L641.2,371.2L641.5,351.7L635.7,351.6Z" fill="#ff0000" stroke="#2a0000" stroke-width="0.75" stroke-linejoin="miter"/>
<path d="M655.3,332.8L666.3,351.8L660.5,351.8L660.5,371.2L650.1,371.2L650.1,351.8L644.3,351.8Z" fill="#ff0000" stroke="#2a0000" stroke-width="0.75" stroke-linejoin="miter"/>
<path d="M663.8,322.9L674.8,341.9L669.0,341.9L669.0,361.4L658.6,361.4L658.6,341.9L652.8,341.9Z" fill="#ff0000" stroke="#2a0000" stroke-width="0.75" stroke-linejoin="miter"/>
<path d="M665.1,323.2L682.4,336.6L677.1,338.8L684.4,356.9L674.7,360.8L667.4,342.7L662.0,344.9Z" fill="#ff0000" stroke="#2a0000" stroke-width="0.75" stroke-linejoin="miter"/>
<path d="M673.7,315.0L691.0,328.4L685.6,330.6L692.9,348.7L683.3,352.6L676.0,334.5L670.6,336.7Z" fill="#ff0000" stroke="#2a0000" stroke-width="0.75" stroke-linejoin="miter"/>
<path d="M682.2,315.0L699.5,328.4L694.1,330.6L701.5,348.7L691.8,352.6L684.5,334.5L679.1,336.7Z" fill="#ff0000" stroke="#2a0000" stroke-width="0.75" stroke-linejoin="miter"/>
<path d="M687.1,309.6L706.9,319.1L702.1,322.3L713.1,338.4L704.6,344.3L693.5,328.2L688.8,331.5Z" fill="#ff0000" stroke="#2a0000" stroke-width="0.75" stroke-linejoin="miter"/>
<path d="M693.9,300.1L714.6,307.2L710.3,311.0L723.1,325.7L715.2,332.5L702.4,317.8L698.0,321.6Z" fill="#ff0000" stroke="#2a0000" stroke-width="0.75" stroke-linejoin="miter"/>
<path d="M702.4,318.5L723.2,325.6L718.8,329.4L731.6,344.1L723.7,350.9L711.0,336.2L706.6,340.0Z" fill="#ff0000" stroke="#2a0000" stroke-width="0.75" stroke-linejoin="miter"/>
<path d="M717.0,334.9L733.8,349.0L728.4,351.0L735.1,369.3L725.3,372.9L718.6,354.5L713.2,356.5Z" fill="#ff0000" stroke="#2a0000" stroke-width="0.75" stroke-linejoin="miter"/>
<path d="M727.1,344.4L742.7,359.9L737.1,361.4L742.1,380.2L732.1,382.9L727.0,364.1L721.4,365.6Z" fill="#ff0000" stroke="#2a0000" stroke-width="0.75" stroke-linejoin="miter"/>
<path d="M740.7,351.8L751.7,370.8L745.9,370.8L745.9,390.2L735.5,390.2L735.5,370.8L729.7,370.8Z" fill="#ff0000" stroke="#2a0000" stroke-width="0.75" stroke-linejoin="miter"/>
<path d="M749.9,351.8L760.2,371.1L754.4,370.9L753.7,390.4L743.3,390.1L744.0,370.6L738.2,370.4Z" fill="#ff0000" stroke="#2a0000" stroke-width="0.75" stroke-linejoin="miter"/>
<path d="M764.3,353.5L768.2,375.1L762.7,373.1L756.0,391.5L746.3,387.9L752.9,369.6L747.5,367.6Z" fill="#ff0000" stroke="#2a0000" stroke-width="0.75" stroke-linejoin="miter"/>
<path d="M773.0,363.1L776.7,384.7L771.2,382.7L764.4,401.0L754.7,397.3L761.5,379.0L756.1,377.0Z" fill="#ff0000" stroke="#2a0000" stroke-width="0.75" stroke-linejoin="miter"/>
<path d="M782.3,362.9L785.0,384.7L779.7,382.4L772.1,400.4L762.5,396.3L770.1,378.3L764.8,376.1Z" fill="#ff0000" stroke="#2a0000" stroke-width="0.75" stroke-linejoin="miter"/>
<path d="M790.3,363.3L793.7,385.0L788.3,382.9L781.3,401.1L771.6,397.4L778.6,379.2L773.2,377.1Z" fill="#ff0000" stroke="#2a0000" stroke-width="0.75" stroke-linejoin="miter"/>
<path d="M798.8,363.3L802.3,385.0L796.8,382.9L789.9,401.1L780.1,397.4L787.1,379.2L781.7,377.1Z" fill="#ff0000" stroke="#2a0000" stroke-width="0.75" stroke-linejoin="miter"/>
<path d="M793.2,352.5L810.5,365.9L805.2,368.1L812.5,386.2L802.8,390.1L795.5,372.0L790.1,374.2Z" fill="#ff0000" stroke="#2a0000" stroke-width="0.75" stroke-linejoin="miter"/>
<path d="M791.1,378.6L804.6,361.3L806.8,366.7L824.9,359.4L828.8,369.0L810.7,376.3L812.9,381.7Z" fill="#ff0000" stroke="#2a0000" stroke-width="0.75" stroke-linejoin="miter"/>
<path d="M799.7,368.6L813.2,351.3L815.3,356.7L833.4,349.4L837.3,359.0L819.2,366.3L821.4,371.7Z" fill="#ff0000" stroke="#2a0000" stroke-width="0.75" stroke-linejoin="miter"/>
<path d="M808.2,358.7L821.7,341.4L823.9,346.8L842.0,339.5L845.9,349.1L827.8,356.4L829.9,361.8Z" fill="#ff0000" stroke="#2a0000" stroke-width="0.75" stroke-linejoin="miter"/>
<path d="M816.8,348.7L830.2,331.4L832.4,336.8L850.5,329.5L854.4,339.1L836.3,346.4L838.5,351.8Z" fill="#ff0000" stroke="#2a0000" stroke-width="0.75" stroke-linejoin="miter"/>
<path d="M825.1,338.2L839.1,321.3L841.1,326.8L859.5,320.1L863.0,329.9L844.7,336.6L846.7,342.0Z" fill="#ff0000" stroke="#2a0000" stroke-width="0.75" stroke-linejoin="miter"/>
<path d="M833.6,347.4L847.7,330.5L849.7,336.0L868.0,329.3L871.5,339.1L853.2,345.8L855.2,351.2Z" fill="#ff0000" stroke="#2a0000" stroke-width="0.75" stroke-linejoin="miter"/>
<path d="M842.1,357.9L856.2,341.0L858.2,346.5L876.5,339.8L880.1,349.6L861.8,356.3L863.7,361.7Z" fill="#ff0000" stroke="#2a0000" stroke-width="0.75" stroke-linejoin="miter"/>
<path d="M854.8,374.3L861.0,353.2L865.0,357.4L879.1,344.0L886.3,351.5L872.2,364.9L876.2,369.2Z" fill="#ff0000" stroke="#2a0000" stroke-width="0.75" stroke-linejoin="miter"/>
<path d="M863.5,383.7L869.5,362.6L873.5,366.7L887.5,353.2L894.8,360.7L880.7,374.2L884.8,378.4Z" fill="#ff0000" stroke="#2a0000" stroke-width="0.75" stroke-linejoin="miter"/>
<path d="M874.0,384.2L877.0,362.4L881.6,366.0L893.6,350.6L901.8,357.0L889.8,372.4L894.4,376.0Z" fill="#ff0000" stroke="#2a0000" stroke-width="0.75" stroke-linejoin="miter"/>
<path d="M887.2,388.3L884.1,366.6L889.5,368.8L896.8,350.7L906.4,354.6L899.1,372.7L904.5,374.9Z" fill="#ff0000" stroke="#2a0000" stroke-width="0.75" stroke-linejoin="miter"/>
<path d="M896.0,389.4L892.6,367.7L898.0,369.8L905.0,351.6L914.7,355.3L907.7,373.5L913.1,375.6Z" fill="#ff0000" stroke="#2a0000" stroke-width="0.75" stroke-linejoin="miter"/>
<path d="M904.2,389.4L901.2,367.7L906.5,369.9L913.8,351.8L923.5,355.7L916.2,373.8L921.6,376.0Z" fill="#ff0000" stroke="#2a0000" stroke-width="0.75" stroke-linejoin="miter"/>
<path d="M913.7,397.0L909.5,375.5L915.0,377.3L921.4,358.9L931.2,362.3L924.8,380.7L930.3,382.6Z" fill="#ff0000" stroke="#2a0000" stroke-width="0.75" stroke-linejoin="miter"/>
<path d="M922.9,389.1L917.9,367.7L923.5,369.4L929.2,350.8L939.1,353.8L933.4,372.5L939.0,374.2Z" fill="#ff0000" stroke="#2a0000" stroke-width="0.75" stroke-linejoin="miter"/>
<path d="M926.9,385.5L927.6,363.6L932.5,366.7L942.9,350.1L951.7,355.6L941.4,372.2L946.3,375.2Z" fill="#ff0000" stroke="#2a0000" stroke-width="0.75" stroke-linejoin="miter"/>
<path d="M931.5,371.9L937.9,350.9L941.9,355.2L956.2,341.9L963.2,349.5L949.0,362.8L952.9,367.0Z" fill="#ff0000" stroke="#2a0000" stroke-width="0.75" stroke-linejoin="miter"/>
<path d="M937.5,362.6L948.4,343.6L951.3,348.6L968.2,338.9L973.4,347.9L956.5,357.6L959.4,362.7Z" fill="#ff0000" stroke="#2a0000" stroke-width="0.75" stroke-linejoin="miter"/>
<path d="M945.1,358.8L958.0,341.1L960.4,346.4L978.2,338.4L982.4,347.9L964.6,355.9L966.9,361.2Z" fill="#ff0000" stroke="#2a0000" stroke-width="0.75" stroke-linejoin="miter"/>
<path d="M952.9,346.9L967.6,330.6L969.4,336.1L987.9,330.1L991.2,340.0L972.6,346.0L974.4,351.5Z" fill="#ff0000" stroke="#2a0000" stroke-width="0.75" stroke-linejoin="miter"/>
<path d="M960.5,332.9L979.5,321.9L979.5,327.7L999.0,327.7L999.0,338.1L979.5,338.1L979.5,343.9Z" fill="#ff0000" stroke="#2a0000" stroke-width="0.75" stroke-linejoin="miter"/>
<path d="M969.1,341.8L988.1,330.8L988.1,336.6L1007.6,336.6L1007.6,347.0L988.1,347.0L988.1,352.8Z" fill="#ff0000" stroke="#2a0000" stroke-width="0.75" stroke-linejoin="miter"/>
<path d="M977.6,350.0L996.6,339.0L996.6,344.8L1016.1,344.8L1016.1,355.2L996.6,355.2L996.6,361.0Z" fill="#ff0000" stroke="#2a0000" stroke-width="0.75" stroke-linejoin="miter"/>
<path d="M986.2,360.7L1004.8,349.0L1005.0,354.8L1024.5,354.1L1024.8,364.5L1005.3,365.2L1005.5,371.0Z" fill="#ff0000" stroke="#2a0000" stroke-width="0.75" stroke-linejoin="miter"/>
<path d="M996.0,353.1L1017.6,349.6L1015.6,355.1L1033.8,362.0L1030.0,371.8L1011.8,364.8L1009.8,370.2Z" fill="#ff0000" stroke="#2a0000" stroke-width="0.75" stroke-linejoin="miter"/></g>
</svg></body></html>
